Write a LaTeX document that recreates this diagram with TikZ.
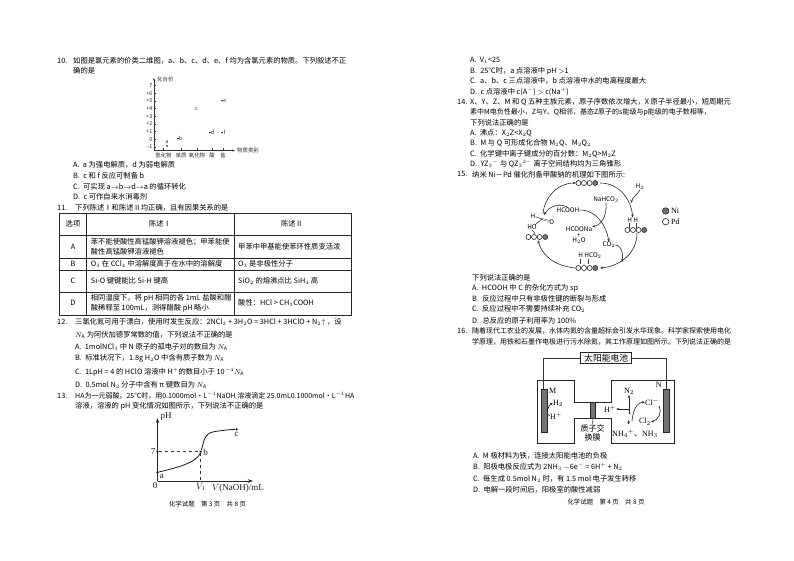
\documentclass[tikz,border=0pt]{standalone}
\usepackage{fontspec}
\setmainfont{Noto Sans CJK SC}
\newfontfamily\lat{Liberation Serif}
\usetikzlibrary{arrows.meta}
\tikzset{
  txt/.style={anchor=west,inner sep=0pt,font=\fontsize{7.3}{8}\selectfont,text=black},
  tight/.style={font=\fontsize{7}{8}\selectfont},
  cell/.style={inner sep=0pt,font=\fontsize{7.3}{8}\selectfont,text=black},
  tiny/.style={inner sep=0pt,font=\fontsize{5.4}{6}\selectfont,text=black!85},
  small/.style={inner sep=0pt,font=\fontsize{6.4}{7}\selectfont,text=black},
  graphlabel/.style={inner sep=0pt,font=\lat\fontsize{9}{10}\selectfont,text=black!90},
  cellabel/.style={inner sep=0pt,font=\lat\fontsize{8}{9}\selectfont,text=black},
  pt/.style={circle,fill=black,inner sep=0pt,minimum size=2.4pt},
  ni/.style={circle,draw=black!85,fill=black!55,line width=.6pt,inner sep=0pt,minimum size=5pt},
  pd/.style={circle,draw=black!85,fill=white,line width=.6pt,inner sep=0pt,minimum size=5pt},
  wire/.style={draw=black!80,line width=.55pt},
  flow/.style={draw=black!85,line width=.6pt,-{Stealth[length=3pt,width=2.4pt]}},
  rowbox/.style={inner sep=0pt,minimum width=24pt,minimum height=6pt}
}
% a row of catalyst atoms: name, centre
\newcommand{\atomrow}[2]{
  \node[rowbox] (#1) at (#2) {};
  \foreach \k in {0,1,2} \node[pd] at ([xshift=2.6+\k*5.6]#1.west) {};
  \node[ni] at ([xshift=19.4]#1.west) {};
}
\begin{document}
\begin{tikzpicture}[x=1pt,y=-1pt]
\useasboundingbox (0,0) rectangle (794,561);
% question 10
\node[txt] (n10) at (57,60.5) {10.};
\node[txt] (q10) at (73,60.5) {如图是氯元素的价类二维图，a、b、c、d、e、f 均为含氯元素的物质。下列叙述不正};
\node[txt] (q10b) at (73,71) {确的是};
\coordinate (o10) at (154,150.5);
\coordinate (y10) at (154,78);
\coordinate (x10) at (235,150.5);
\draw[wire,-{Stealth[length=2.5pt,width=2pt]}] (o10) -- (y10);
\draw[wire,-{Stealth[length=2.5pt,width=2pt]}] (o10) -- (x10);
\node[tiny,anchor=west] (yname) at (157,79.5) {化合价};
\node[tiny,anchor=west] (xname) at (237,150.5) {物质类别};
\foreach \v/\lab in {0/7,1/+6,2/+5,3/+4,4/+3,5/+2,6/+1,7/0,8/-1} {
  \node[tiny,anchor=east] at (152.5,85.7+\v*7.66) {\lab};
  \draw[wire,line width=.4pt] (154,85.7+\v*7.66) -- (156,85.7+\v*7.66);
}
\foreach \px/\lab in {163.5/氢化物,181/单质,197/氧化物,212/酸,223/盐} {
  \node[tiny] at (\px,155) {\lab};
  \draw[wire,line width=.4pt] (\px,150.5) -- (\px,148.5);
}
\node[pt,minimum size=1.6pt] (pa) at (167,146) {};
\node[tiny] (la) at (167,142) {a};
\node[pt,minimum size=1.6pt] (pb) at (178,138.5) {};
\node[tiny] (lb) at (180.5,138) {b};
\node[tiny] (lc) at (196.5,109) {c};
\node[pt,minimum size=1.6pt] (pd) at (209.7,132.7) {};
\node[tiny] (ld) at (212.5,132.7) {d};
\node[pt,minimum size=1.6pt] (pe) at (222,100.7) {};
\node[tiny] (le) at (224.5,100.7) {e};
\node[pt,minimum size=1.6pt] (pf) at (222,132.7) {};
\node[tiny] (lf) at (224.5,132.7) {f};
\node[txt] (a10) at (73,165.3) {A.\ \ a 为强电解质，d 为弱电解质};
\node[txt] (b10) at (73,176) {B.\ \ c 和 f 反应可制备 b};
\node[txt] (c10) at (73,186.5) {C.\ \ 可实现 a$\rightarrow$b$\rightarrow$d$\rightarrow$a 的循环转化};
\node[txt] (d10) at (73,197) {D.\ \ c 可作自来水消毒剂};
% question 11
\node[txt] (n11) at (57,208) {11.};
\node[txt] (q11) at (75,208) {下列陈述Ⅰ和陈述Ⅱ均正确，且有因果关系的是};
\draw[black!85,line width=.7pt] (59,213.3) rectangle (351.7,315);
\foreach \ry in {235,258.3,270,292.3} \draw[black!85,line width=.6pt] (59,\ry) -- (351.7,\ry);
\foreach \cx in {86,234.3} \draw[black!85,line width=.6pt] (\cx,213.3) -- (\cx,315);
\node[cell] (h1) at (73,224) {选项};
\node[cell] (h2) at (160,224) {陈述Ⅰ};
\node[cell] (h3) at (292,224) {陈述Ⅱ};
\node[cell] (ra) at (73,247) {A};
\node[txt] (ra1) at (90.7,241.7) {苯不能使酸性高锰酸钾溶液褪色；甲苯能使};
\node[txt] (ra2) at (90.7,251.7) {酸性高锰酸钾溶液褪色};
\node[txt] (ra3) at (238,246.7) {甲苯中甲基能使苯环性质变活泼};
\node[cell] (rb) at (73,264) {B};
\node[txt] (rb1) at (90.7,264) {O$_3$ 在 CCl$_4$ 中溶解度高于在水中的溶解度};
\node[txt] (rb3) at (238,264) {O$_3$ 是非极性分子};
\node[cell] (rc) at (73,281) {C};
\node[txt] (rc1) at (90.7,281) {Si-O 键键能比 Si-H 键高};
\node[txt] (rc3) at (238,281) {SiO$_2$ 的熔沸点比 SiH$_4$ 高};
\node[cell] (rd) at (73,303.3) {D};
\node[txt] (rd1) at (90.7,298.3) {相同温度下，将 pH 相同的各 1mL 盐酸和醋};
\node[txt] (rd2) at (90.7,308.3) {酸稀释至 100mL，测得醋酸 pH 略小};
\node[txt] (rd3) at (238,303.3) {酸性：HCl > CH$_3$COOH};
% question 12
\node[txt] (n12) at (57,321.7) {12.};
\node[txt] (q12) at (75,321.7) {三氯化氮可用于漂白，使用时发生反应：2NCl$_3$ + 3H$_2$O = 3HCl + 3HClO + N$_2$$\uparrow$ ，设};
\node[txt] (q12b) at (75,335) {$N_{\mathrm A}$ 为阿伏加德罗常数的值，下列说法不正确的是};
\node[txt] (a12) at (75,346.7) {A.\ \ 1molNCl$_3$ 中 N 原子的孤电子对的数目为 $N_{\mathrm A}$};
\node[txt] (b12) at (75,358) {B.\ \ 标准状况下，1.8g H$_2$O 中含有质子数为 $N_{\mathrm A}$};
\node[txt] (c12) at (75,371.7) {C.\ \ 1LpH = 4 的 HClO 溶液中 H$^+$的数目小于 10$^{-4}$$N_{\mathrm A}$};
\node[txt] (d12) at (75,385) {D.\ \ 0.5mol N$_2$ 分子中含有 π 键数目为 $N_{\mathrm A}$};
% question 13
\node[txt] (n13) at (57,395.7) {13.};
\node[txt,tight] (q13) at (75,395.7) {HA为一元弱酸。25℃时，用0.1000mol·L$^{-1}$NaOH 溶液滴定 25.0mL0.1000mol·L$^{-1}$HA};
\node[txt] (q13b) at (75,406.7) {溶液，溶液的 pH 变化情况如图所示，下列说法不正确的是};
\coordinate (o13) at (157.5,481);
\coordinate (y13) at (157.5,418);
\coordinate (x13) at (253,481);
\draw[line width=.9pt,black!85,-{Stealth[length=5pt,width=3.5pt]}] (o13) -- (y13);
\draw[line width=.8pt,black!85,-{Stealth[length=5pt,width=3.5pt]}] (o13) -- (x13);
\node[pt] (p7) at (157.5,451.7) {};
\node[pt] (pa13) at (157.5,472.3) {};
\node[pt] (pb13) at (200.7,451.7) {};
\node[pt] (pc13) at (236.7,429.3) {};
\coordinate (v13) at (200.7,481);
\draw[dashed,black!80,line width=.5pt] (p7) -- (pb13);
\draw[dashed,black!80,line width=.5pt] (pb13) -- (v13);
\draw[line width=.8pt,black!90] (pa13) .. controls (180,467) and (197,462) .. (pb13)
  .. controls (204,443) and (203,433) .. (215,431.5) .. controls (222,430.5) and (230,429.5) .. (pc13);
\node[graphlabel] (lph) at (166,416.5) {pH};
\node[graphlabel] (l7) at (153,452) {7};
\node[graphlabel] (lb13) at (205.7,452) {b};
\node[graphlabel] (la13) at (161.7,476) {a};
\node[graphlabel] (lc13) at (236.7,434.7) {c};
\node[graphlabel] (l0) at (155,486) {0};
\node[graphlabel] (lv1) at (201,487) {$V_1$};
\node[graphlabel] (lv) at (238,488) {$V$(NaOH)/mL};
\node[small] (foot3) at (207.5,504) {化学试题\quad 第 3 页\quad 共 8 页};
% question 13 options
\node[txt] (a13) at (470,60) {A.\ \ V$_1$<25};
\node[txt] (b13) at (470,71) {B.\ \ 25℃时，a 点溶液中 pH $>$1};
\node[txt] (c13) at (470,81) {C.\ \ a、b、c 三点溶液中，b 点溶液中水的电离程度最大};
\node[txt] (d13) at (470,91.7) {D.\ \ c 点溶液中 c(A$^-$) $>$ c(Na$^+$)};
% question 14
\node[txt] (n14) at (457,101.7) {14.};
\node[txt] (q14) at (470,101.7) {X、Y、Z、M 和 Q 五种主族元素，原子序数依次增大，X 原子半径最小，短周期元};
\node[txt,tight] (q14b) at (470,112) {素中M电负性最小，Z与Y、Q相邻，基态Z原子的s能级与p能级的电子数相等，};
\node[txt] (q14c) at (470,122.7) {下列说法正确的是};
\node[txt] (a14) at (470,133.3) {A.\ \ 沸点：X$_2$Z<X$_2$Q};
\node[txt] (b14) at (470,143.3) {B.\ \ M 与 Q 可形成化合物 M$_2$Q、M$_2$Q$_2$};
\node[txt] (c14) at (470,154) {C.\ \ 化学键中离子键成分的百分数：M$_2$Q>M$_2$Z};
\node[txt] (d14) at (470,164) {D.\ \ YZ$_3{}^-$ 与 QZ$_3{}^{2-}$ 离子空间结构均为三角锥形};
% question 15
\node[txt] (n15) at (457,174.3) {15.};
\node[txt] (q15) at (472,174.3) {纳米 Ni－Pd 催化剂备甲酸钠的机理如下图所示:};
\atomrow{rtop}{588,183}
\atomrow{rright}{637,230}
\atomrow{rleft}{538,237}
\atomrow{rbot}{588,268}
\node[small] (h2in) at (640,186.7) {H$_2$};
\node[small] (nahco) at (606,200) {NaHCO$_3$};
\node[small] (hcooh) at (568,210) {HCOOH};
\node[small] (hcoona) at (579,229.3) {HCOONa};
\node[small] (plus) at (579,235.5) {+};
\node[small] (water) at (579,241) {H$_2$O};
\node[small] (co2) at (609,245) {CO$_2$};
\node[small] (hh) at (632.7,220) {H H};
\node[small] (hco) at (590,256) {H HCO$_2$};
\node[small] (hl) at (533,215.7) {H};
\node[small] (ol) at (551.7,221.7) {O};
\node[small] (hol) at (532,227.3) {HO};
\coordinate (cl) at (542,219);
\draw[wire] (hl) -- (cl);
\draw[wire,double,double distance=.7pt,line width=.35pt] (cl) -- (ol);
\draw[wire] (cl) -- (hol);
\draw[wire] (hol.south) -- ([xshift=-3]rleft.north);
\draw[wire] (hh.south west) ++(2,0) -- ++(0,5);
\draw[wire] (hh.south east) ++(-2,0) -- ++(0,5);
\draw[wire] (hco.south west) ++(2,0) -- ++(0,5);
\draw[wire] (hco.south) ++(-2,0) -- ++(0,5);
\draw[flow] (rtop.east) to[out=0,in=95] (hh.north);
\draw[flow] (h2in.south) to[out=-120,in=75] (631,203);
\draw[flow] (rright.south) to[out=-90,in=5] (rbot.east);
\draw[flow] (rbot.west) to[out=175,in=-75] (rleft.south);
\draw[flow] (543,214) to[out=85,in=180] (rtop.west);
\draw[flow] (hcooh.north) to[out=150,in=60] (544,215);
\draw[flow] (hcooh.east) to[out=0,in=100] (co2.north);
\draw[flow] (nahco.south) to[out=-85,in=10] (hcoona.north east);
\draw[flow] (co2.east) to[out=-10,in=80] (622,262);
\node[ni,minimum size=6.5pt] (legni) at (665.7,211) {};
\node[pd,minimum size=6.5pt] (legpd) at (665.7,221.7) {};
\node[cellabel,anchor=west] (lni) at (671,211) {Ni};
\node[cellabel,anchor=west] (lpd) at (671,221.7) {Pd};
\node[txt] (p15) at (472,277.7) {下列说法正确的是};
\node[txt] (a15) at (472,288.3) {A.\ \ HCOOH 中 C 的杂化方式为 sp};
\node[txt] (b15) at (472,298.3) {B.\ \ 反应过程中只有非极性键的断裂与形成};
\node[txt] (c15) at (472,309.3) {C.\ \ 反应过程中不需要持续补充 CO$_2$};
\node[txt] (d15) at (472,320.7) {D.\ \ 总反应的原子利用率为 100\%};
% question 16
\node[txt] (n16) at (457,330.7) {16.};
\node[txt,tight] (q16) at (472,330.7) {随着现代工农业的发展，水体内氮的含量超标会引发水华现象。科学家探索使用电化};
\node[txt,tight] (q16b) at (472,341.7) {学原理，用铁和石墨作电极进行污水除氮，其工作原理如图所示。下列说法正确的是};
\node[cell,font=\fontsize{8.8}{10}\selectfont,draw=black!85,line width=.6pt,minimum width=51pt,minimum height=11pt] (solar) at (606.2,357.8) {太阳能电池};
\draw[black!85,line width=.6pt] (537.3,380) -- (574,380) -- (574,402.3) -- (611.7,402.3) -- (611.7,380)
  -- (674,380) -- (674,443.3) -- (611.7,443.3) -- (611.7,418.3) -- (574,418.3) -- (574,443.3) -- (537.3,443.3) -- cycle;
\node[draw=black!85,fill=black!55,inner sep=0pt,minimum width=4.5pt,minimum height=16pt] (memb) at (592.8,410.3) {};
\node[draw=black!85,fill=black!55,inner sep=0pt,minimum width=6pt,minimum height=43.5pt] (elm) at (543.7,410.7) {};
\node[draw=black!85,fill=black!55,inner sep=0pt,minimum width=6pt,minimum height=43.5pt] (eln) at (666.3,410.7) {};
\draw[wire] (solar.west) -| (elm.north);
\draw[wire] (solar.east) -| (eln.north);
\node[cellabel] (lm) at (552.7,390.7) {M};
\node[cellabel] (hm) at (558,403.3) {H$_2$};
\node[cellabel] (hp) at (556,416) {H$^+$};
\draw[flow] (hp.west) to[out=170,in=200] (hm.west);
\node[cell,font=\fontsize{8}{9}\selectfont] (mem1) at (592.7,428.3) {质子交};
\node[cell,font=\fontsize{8}{9}\selectfont] (mem2) at (592.7,437.7) {换膜};
\draw[wire] (memb.south) -- (mem1.north);
\node[cellabel] (ln) at (658.7,385) {N};
\node[cellabel] (n2) at (629,391.7) {N$_2$};
\node[cellabel] (hn) at (610,409) {H$^+$};
\coordinate (src) at (629,414);
\coordinate (turn) at (629,409);
\draw[flow] (src) -- (n2.south);
\draw[flow] (turn) -- (hn.east);
\node[cellabel] (cl1) at (652,402.3) {Cl$^-$};
\node[cellabel] (cl2) at (645,421.7) {Cl$_2$};
\coordinate (up) at (628.7,424);
\draw[flow] (up) -- ++(0,-4);
\coordinate (cs) at (632,421);
\draw[flow] (cs) to[out=85,in=180] (cl1.west);
\draw[flow] (cl1.south east) to[out=-60,in=10] (cl2.east);
\node[cellabel] (nh) at (635,434) {NH$_4{}^+${\rmfamily 、}NH$_3$};
\node[txt] (a16) at (473,455.7) {A.\ \ M 极材料为铁，连接太阳能电池的负极};
\node[txt] (b16) at (473,466.7) {B.\ \ 阳极电极反应式为 2NH$_3$ $-$6e$^-$ = 6H$^+$ + N$_2$};
\node[txt] (c16) at (473,479.3) {C.\ \ 每生成 0.5mol N$_2$ 时，有 1.5 mol 电子发生转移};
\node[txt] (d16) at (473,490) {D.\ \ 电解一段时间后，阳极室的酸性减弱};
\node[small] (foot4) at (606,502.3) {化学试题\quad 第 4 页\quad 共 8 页};
\end{tikzpicture}
\end{document}
